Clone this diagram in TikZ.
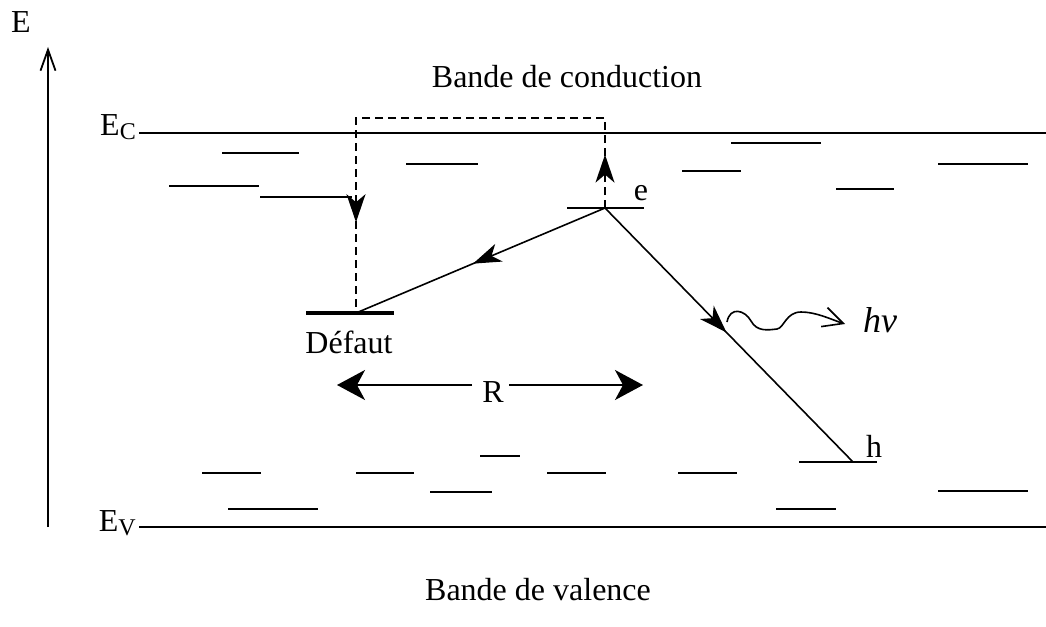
\documentclass[tikz,border=0pt]{standalone}
\usepackage{fontspec}
\setmainfont{Liberation Serif}
\usetikzlibrary{arrows.meta,decorations.markings}

\tikzset{
  txt/.style={inner sep=0pt, anchor=base, font=\fontsize{32}{38}\selectfont},
  band/.style={line width=2pt},
  trap/.style={line width=2pt},
  deflevel/.style={line width=4pt},
  elpath/.style={line width=1.6pt},
  midarrow/.style 2 args={postaction={decorate}, decoration={markings,
      mark=at position #1 with {\arrow{#2}}}},
  fhead/.tip={Stealth[length=28pt,width=19pt,inset=8pt]},
}

\newcommand{\sublbl}[1]{\raisebox{-4pt}{\fontsize{24}{24}\selectfont #1}}

\begin{document}
\begin{tikzpicture}[x=1pt,y=-1pt]
  \useasboundingbox (0,0) rectangle (1046,626);

  % energy axis
  \coordinate (axb) at (48,527);
  \coordinate (axt) at (48,47);
  \draw[line width=2pt, -{Straight Barb[length=21pt,width=15pt,line width=1.8pt]}] (axb) -- (axt);
  \node[txt] (Elbl) at (21,33) {E};

  % band edges
  \node[txt, anchor=base east] (EC) at (136,135) {E\sublbl{C}};
  \node[txt, anchor=base east] (EV) at (136,531) {E\sublbl{V}};
  \coordinate (ECr) at (1046,133);
  \coordinate (EVr) at (1046,527);
  \draw[band] (139,133) -- (ECr);
  \draw[band] (139,527) -- (EVr);

  \node[txt] (CB) at (567,88) {Bande de conduction};
  \node[txt] (VB) at (538,600) {Bande de valence};

  % shallow traps below the conduction band
  \draw[trap] (222,153) -- (299,153);
  \draw[trap] (169,186) -- (259,186);
  \draw[trap] (260,197) -- (352,197);
  \draw[trap] (406,164) -- (478,164);
  \draw[trap] (731,143) -- (821,143);
  \draw[trap] (682,171) -- (741,171);
  \draw[trap] (836,189) -- (894,189);
  \draw[trap] (938,164) -- (1028,164);

  % shallow traps above the valence band
  \draw[trap] (202,473) -- (261,473);
  \draw[trap] (228,509) -- (318,509);
  \draw[trap] (356,473) -- (414,473);
  \draw[trap] (430,492) -- (492,492);
  \draw[trap] (480,456) -- (520,456);
  \draw[trap] (547,473) -- (606,473);
  \draw[trap] (678,473) -- (737,473);
  \draw[trap] (776,509) -- (836,509);
  \draw[trap] (938,491) -- (1028,491);

  % electron level, defect level, hole level
  \coordinate (apex) at (605,208);
  \coordinate (def) at (356,313);
  \coordinate (hole) at (853,462);
  \draw[trap] (567,208) -- (644,208);
  \draw[deflevel] (306,313) -- (394,313);
  \draw[trap] (799,462) -- (877,462);
  \node[txt] (elbl) at (641,200) {e};
  \node[txt] (hlbl) at (874,457) {h};
  \node[txt] (deflbl) at (349,353) {Défaut};

  % thermal escape and recapture on the defect
  \coordinate (up1) at (605,118);
  \coordinate (up2) at (356,118);
  \draw[elpath, dash pattern=on 8pt off 5pt,
        postaction={decorate},
        decoration={markings,
          mark=at position 0.10 with {\arrow[solid]{fhead}},
          mark=at position 0.83 with {\arrow[solid]{fhead}}}]
    (apex) -- (up1) -- (up2) -- (def);

  % tunnelling to the defect and radiative recombination
  \draw[elpath, midarrow={0.53}{fhead}] (apex) -- (def);
  \draw[elpath, midarrow={0.49}{fhead}] (apex) -- (hole);

  % emitted photon
  \coordinate (ph0) at (727,322);
  \coordinate (ph1) at (845,324);
  \draw[elpath, -{Straight Barb[length=20pt,width=20pt,line width=1.6pt]}]
    (ph0) .. controls (730,306) and (745,310) .. (751,321)
          .. controls (757,332) and (768,330) .. (777,329)
          .. controls (784,328) and (786,312) .. (801,312)
          .. controls (816,312) and (830,319) .. (ph1);
  \node[txt, font=\fontsize{36}{40}\selectfont\itshape] (hv) at (880,332) {hv};

  % separation R
  \node[txt] (R) at (493,402) {R};
  \coordinate (Rl) at (337,385);
  \coordinate (Rr) at (643,385);
  \draw[elpath, -{Stealth[length=28pt,width=30pt,inset=8pt]}] (472,385) -- (Rl);
  \draw[elpath, -{Stealth[length=28pt,width=30pt,inset=8pt]}] (509,385) -- (Rr);
\end{tikzpicture}
\end{document}
